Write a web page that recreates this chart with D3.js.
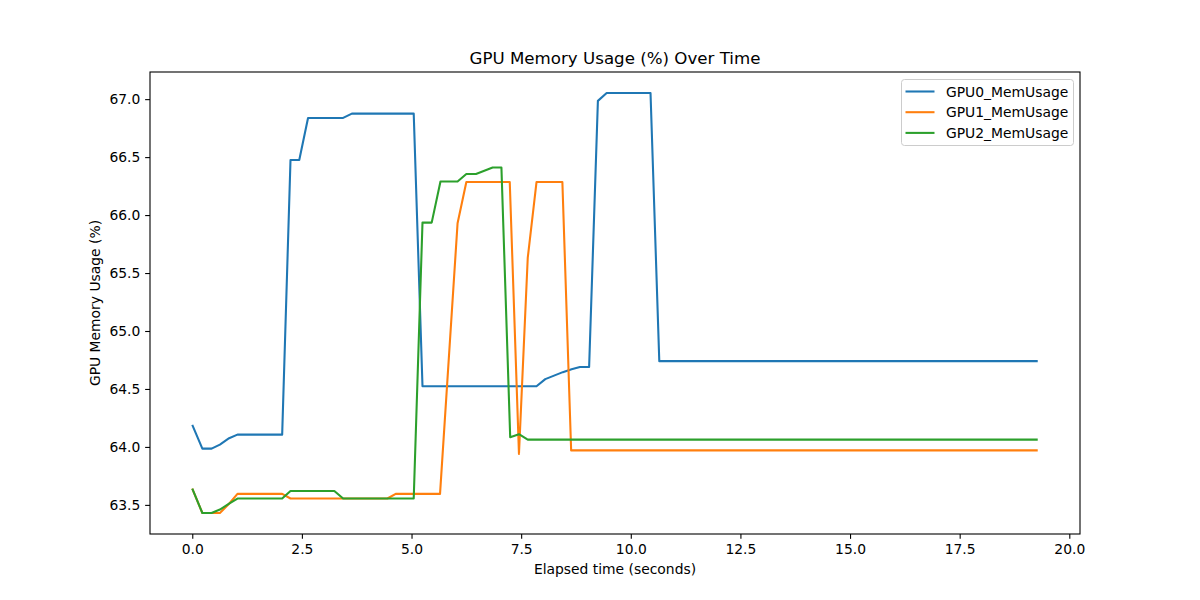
<!DOCTYPE html>
<html>
<head>
<meta charset="utf-8">
<script src="https://cdn.jsdelivr.net/npm/d3@7"></script>
<style>
body { margin: 0; background: #fff; }
text { font-family: "DejaVu Sans", sans-serif; fill: #000; }
</style>
</head>
<body>
<div id="chart"></div>
<script>
// breakpoints of each series (time in s, memory usage in %)
var gpu0Time = [0, 0.23, 0.44, 0.63, 0.84, 1.03, 2.05, 2.24, 2.44, 2.64, 3.44, 3.64, 5.05, 5.25, 7.85, 8.05, 8.25, 8.45, 8.65, 8.84, 9.05, 9.25, 9.45, 10.45, 10.65, 19.28];
var gpu0Mem  = [64.19, 63.985, 63.985, 64.02, 64.075, 64.106, 64.106, 66.475, 66.475, 66.838, 66.838, 66.875, 66.875, 64.523, 64.523, 64.585, 64.615, 64.645, 64.67, 64.69, 64.69, 66.985, 67.053, 67.053, 64.74, 64.74];

var gpu1Time = [0, 0.23, 0.44, 0.63, 0.84, 1.03, 2.05, 2.24, 4.45, 4.64, 5.65, 6.05, 6.25, 7.24, 7.45, 7.65, 7.85, 8.44, 8.64, 19.28];
var gpu1Mem  = [63.64, 63.43, 63.43, 63.43, 63.51, 63.595, 63.595, 63.555, 63.555, 63.595, 63.595, 65.93, 66.285, 66.285, 63.94, 65.63, 66.285, 66.285, 63.97, 63.97];

var gpu2Time = [0, 0.23, 0.44, 0.63, 0.84, 1.03, 2.05, 2.24, 3.24, 3.44, 5.05, 5.25, 5.46, 5.66, 6.05, 6.25, 6.47, 6.85, 7.05, 7.25, 7.45, 7.65, 19.28];
var gpu2Mem  = [63.64, 63.43, 63.43, 63.46, 63.51, 63.555, 63.555, 63.62, 63.62, 63.555, 63.555, 65.935, 65.935, 66.29, 66.29, 66.355, 66.355, 66.41, 66.41, 64.084, 64.11, 64.063, 64.063];

var seriesNames = ["GPU0_MemUsage", "GPU1_MemUsage", "GPU2_MemUsage"];
var colors = ["#1f77b4", "#ff7f0e", "#2ca02c"];
var xTicks = [0, 2.5, 5, 7.5, 10, 12.5, 15, 17.5, 20];
var yTicks = [63.5, 64.0, 64.5, 65.0, 65.5, 66.0, 66.5, 67.0];

function plot() {
	var width = 1200, height = 600;
	var margin = {left: 150, right: 120, top: 72, bottom: 66};
	var iw = width - margin.left - margin.right;
	var ih = height - margin.top - margin.bottom;

	var series = [
		{name: seriesNames[0], t: gpu0Time, v: gpu0Mem},
		{name: seriesNames[1], t: gpu1Time, v: gpu1Mem},
		{name: seriesNames[2], t: gpu2Time, v: gpu2Mem}
	];

	// matplotlib style 5% margins
	var allT = [].concat(gpu0Time, gpu1Time, gpu2Time);
	var allV = [].concat(gpu0Mem, gpu1Mem, gpu2Mem);
	var tMin = d3.min(allT), tMax = d3.max(allT);
	var vMin = d3.min(allV), vMax = d3.max(allV);
	var tPad = (tMax - tMin) * 0.05, vPad = (vMax - vMin) * 0.05;

	var x = d3.scaleLinear().domain([tMin - tPad, tMax + tPad]).range([0, iw]);
	var y = d3.scaleLinear().domain([vMin - vPad, vMax + vPad]).range([ih, 0]);

	var svg = d3.select("#chart").append("svg")
	.attr("width", width)
	.attr("height", height);

	var g = svg.append("g")
	.attr("transform", "translate(" + margin.left + "," + margin.top + ")");

	var line = d3.line()
	.x(function(d) { return x(d[0]); })
	.y(function(d) { return y(d[1]); });

	g.append("clipPath").attr("id", "clip")
	.append("rect").attr("width", iw).attr("height", ih);

	series.forEach(function(s, i) {
		g.append("path")
		.datum(d3.zip(s.t, s.v))
		.attr("clip-path", "url(#clip)")
		.attr("fill", "none")
		.attr("stroke", colors[i])
		.attr("stroke-width", 2.08)
		.attr("stroke-linejoin", "round")
		.attr("d", line);
	});

	var xAxis = g.append("g")
	.attr("transform", "translate(0," + ih + ")")
	.call(d3.axisBottom(x).tickValues(xTicks).tickFormat(d3.format(".1f")).tickSize(4.86).tickPadding(4.86));

	var yAxis = g.append("g")
	.call(d3.axisLeft(y).tickValues(yTicks).tickFormat(d3.format(".1f")).tickSize(4.86).tickPadding(4.86));

	[xAxis, yAxis].forEach(function(a) {
		a.select(".domain").remove();
		a.selectAll(".tick line").attr("stroke", "#000").attr("stroke-width", 1.1);
		a.selectAll(".tick text").attr("font-size", "13.89px").attr("font-family", "DejaVu Sans").attr("fill", "#000");
	});

	// frame
	g.append("rect")
	.attr("width", iw).attr("height", ih)
	.attr("fill", "none").attr("stroke", "#000").attr("stroke-width", 1.1);

	svg.append("text")
	.attr("x", margin.left + iw / 2).attr("y", 64)
	.attr("text-anchor", "middle").attr("font-size", "16.67px")
	.text("GPU Memory Usage (%) Over Time");

	svg.append("text")
	.attr("x", margin.left + iw / 2).attr("y", 574)
	.attr("text-anchor", "middle").attr("font-size", "13.89px")
	.text("Elapsed time (seconds)");

	svg.append("text")
	.attr("transform", "translate(100," + (margin.top + ih / 2) + ") rotate(-90)")
	.attr("text-anchor", "middle").attr("font-size", "13.89px")
	.text("GPU Memory Usage (%)");

	// legend
	var lg = svg.append("g").attr("transform", "translate(901.5,79.5)");
	lg.append("rect")
	.attr("width", 172).attr("height", 66).attr("rx", 3)
	.attr("fill", "#fff").attr("fill-opacity", 0.8)
	.attr("stroke", "#ccc").attr("stroke-width", 1);
	seriesNames.forEach(function(n, i) {
		var row = lg.append("g").attr("transform", "translate(0," + (12 + i * 20.7) + ")");
		row.append("line").attr("x1", 4).attr("x2", 33)
		.attr("stroke", colors[i]).attr("stroke-width", 2.08);
		row.append("text").attr("x", 44.5).attr("y", 5)
		.attr("font-size", "13.89px").text(n);
	});
}

document.addEventListener("DOMContentLoaded", function() {
	plot();
});
</script>
</body>
</html>
